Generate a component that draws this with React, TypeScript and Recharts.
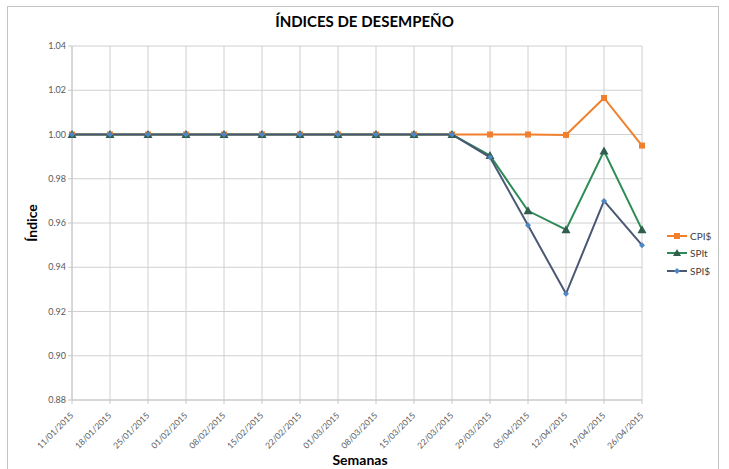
import React from "react";
import { LineChart, Line, XAxis, YAxis, CartesianGrid, Label } from "recharts";

const weeks = [
  "11/01/2015", "18/01/2015", "25/01/2015", "01/02/2015", "08/02/2015", "15/02/2015",
  "22/02/2015", "01/03/2015", "08/03/2015", "15/03/2015", "22/03/2015", "29/03/2015",
  "05/04/2015", "12/04/2015", "19/04/2015", "26/04/2015",
];
const cpi = [1, 1, 1, 1, 1, 1, 1, 1, 1, 1, 1, 1.0, 1.0, 0.9998, 1.0165, 0.995];
const spit = [1, 1, 1, 1, 1, 1, 1, 1, 1, 1, 1, 0.9905, 0.9655, 0.957, 0.9925, 0.957];
const spid = [1, 1, 1, 1, 1, 1, 1, 1, 1, 1, 1, 0.9897, 0.959, 0.928, 0.970, 0.950];
const yTicks = [0.88, 0.9, 0.92, 0.94, 0.96, 0.98, 1.0, 1.02, 1.04];

const data = weeks.map((w, i) => ({ week: w, cpi: cpi[i], spit: spit[i], spid: spid[i] }));

const FONT = "Lato, 'Open Sans', sans-serif";
const ORANGE = "#F07F2E";
const GREEN = "#2E8B57";
const GREEN_MARK = "#2F5E4E";
const NAVY = "#4A5873";
const BLUE_MARK = "#4F86C6";

const Square = (p: any) => {
  if (p.cx == null) return null;
  return <rect key={p.index} x={p.cx - 3} y={p.cy - 3} width={6} height={6} fill={ORANGE} />;
};
const Tri = (p: any) => {
  if (p.cx == null) return null;
  return (
    <polygon key={p.index}
      points={`${p.cx},${p.cy - 4.5} ${p.cx - 4.5},${p.cy + 3.5} ${p.cx + 4.5},${p.cy + 3.5}`}
      fill={GREEN_MARK} />
  );
};
const Diamond = (p: any) => {
  if (p.cx == null) return null;
  return (
    <polygon key={p.index}
      points={`${p.cx},${p.cy - 3} ${p.cx + 3},${p.cy} ${p.cx},${p.cy + 3} ${p.cx - 3},${p.cy}`}
      fill={BLUE_MARK} />
  );
};

const XTick = (p: any) => {
  const { x, y, payload } = p;
  return (
    <text x={x + 2} y={y + 10} textAnchor="end" fontSize={8.5} fill="#595959" fontFamily={FONT}
      transform={`rotate(-45, ${x + 2}, ${y + 10})`}>
      {payload.value}
    </text>
  );
};

const legendItems = [
  { name: "CPI$", color: ORANGE, mark: "sq", mc: ORANGE },
  { name: "SPIt", color: GREEN, mark: "tri", mc: GREEN_MARK },
  { name: "SPI$", color: NAVY, mark: "dia", mc: BLUE_MARK },
];

const LegendContent = () => (
  <div style={{ fontFamily: FONT, fontSize: 10, color: "#404040" }}>
    {legendItems.map((it) => (
      <div key={it.name} style={{ display: "flex", alignItems: "center", height: 17.5 }}>
        <svg width={22} height={10}>
          <line x1={1} y1={5} x2={21} y2={5} stroke={it.color} strokeWidth={2} />
          {it.mark === "sq" && <rect x={8} y={2} width={6} height={6} fill={it.mc} />}
          {it.mark === "tri" && <polygon points="11,1 7,8 15,8" fill={it.mc} />}
          {it.mark === "dia" && <polygon points="11,2 14,5 11,8 8,5" fill={it.mc} />}
        </svg>
        <span style={{ marginLeft: 2 }}>{it.name}</span>
      </div>
    ))}
  </div>
);

export default function App() {
  return (
    <div style={{ position: "absolute", left: 0, top: 0, width: 729, height: 469, overflow: "hidden", background: "#fff" }}>
      <div style={{ position: "absolute", left: 7, top: 6, width: 710, height: 470, border: "1px solid #c4c4c4" }} />
      <div style={{ position: "absolute", left: 0, top: 12, width: 729, textAlign: "center", fontFamily: FONT, fontWeight: 700, fontSize: 15, color: "#000" }}>
        ÍNDICES DE DESEMPEÑO
      </div>
      <div style={{ position: "absolute", left: 0, top: 0 }}>
        <LineChart width={729} height={469} data={data} margin={{ top: 46, right: 87, left: 0, bottom: 0 }}>
          <CartesianGrid stroke="#d0d0d0" strokeWidth={1} />
          <XAxis dataKey="week" height={69} tick={<XTick />} interval={0} stroke="#c8c8c8" tickSize={4}>
            <Label content={(props: any) => {
              const vb = props.viewBox;
              return (
                <text x={vb.x + vb.width / 2 + 3} y={vb.y + vb.height - 4} textAnchor="middle"
                  fontFamily={FONT} fontWeight={700} fontSize={14} fill="#000">Semanas</text>
              );
            }} />
          </XAxis>
          <XAxis xAxisId="top" dataKey="week" orientation="top" height={0} tick={false} tickLine={false} stroke="#c9d6ee" />
          <YAxis width={72} domain={[0.88, 1.04]} ticks={yTicks} tickFormatter={(v: number) => v.toFixed(2)}
            stroke="#c8c8c8" tickSize={4} tick={{ fontSize: 9, fill: "#595959", fontFamily: FONT }}>
            <Label content={(props: any) => {
              const vb = props.viewBox;
              const cx = vb.x + 37;
              const cy = vb.y + vb.height / 2;
              return (
                <text x={cx} y={cy} textAnchor="middle" transform={`rotate(-90, ${cx}, ${cy})`}
                  fontFamily={FONT} fontWeight={700} fontSize={14} fill="#000">Índice</text>
              );
            }} />
          </YAxis>
          <YAxis yAxisId="right" orientation="right" width={0} tick={false} tickLine={false} stroke="#c9d6ee" domain={[0.88, 1.04]} />
          <Line dataKey="cpi" name="CPI$" stroke={ORANGE} strokeWidth={2} dot={<Square />} activeDot={false} isAnimationActive={false} />
          <Line dataKey="spit" name="SPIt" stroke={GREEN} strokeWidth={2} dot={<Tri />} activeDot={false} isAnimationActive={false} />
          <Line dataKey="spid" name="SPI$" stroke={NAVY} strokeWidth={2} dot={<Diamond />} activeDot={false} isAnimationActive={false} />
        </LineChart>
      </div>
      <div style={{ position: "absolute", left: 666, top: 227, width: 60 }}>
        <LegendContent />
      </div>
    </div>
  );
}
